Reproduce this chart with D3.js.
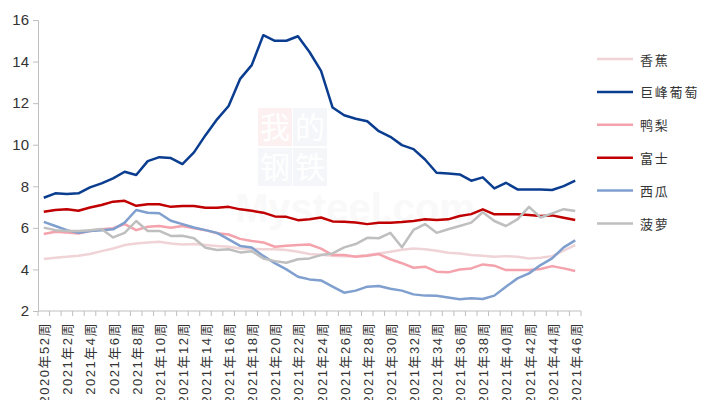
<!DOCTYPE html>
<html>
<head>
<meta charset="utf-8">
<script src="https://cdn.jsdelivr.net/npm/d3@7"></script>
<style>
  body { margin: 0; background: #fff; }
  svg { display: block; font-family: "Liberation Sans", Arial, sans-serif; }
</style>
</head>
<body>
<svg id="chart" width="702" height="400"></svg>
<script>
// Weeks on the x axis
const weeks = ["2020年52周"].concat(d3.range(1, 47).map(w => `2021年${w}周`));

const yTicks = [2, 4, 6, 8, 10, 12, 14, 16];

// Series values
const banana = [4.50,4.56,4.61,4.66,4.74,4.88,5.01,5.17,5.25,5.30,5.33,5.25,5.20,5.22,5.17,5.13,5.09,5.01,4.99,4.97,4.97,4.93,4.85,4.74,4.71,4.66,4.64,4.64,4.69,4.77,4.85,4.95,5.01,4.97,4.90,4.80,4.77,4.69,4.66,4.61,4.64,4.61,4.53,4.56,4.64,4.90,5.17];
const grape = [7.45,7.66,7.63,7.66,7.95,8.14,8.38,8.70,8.54,9.21,9.40,9.36,9.07,9.63,10.46,11.22,11.86,13.17,13.83,15.27,15.00,15.00,15.22,14.46,13.55,11.79,11.42,11.25,11.13,10.65,10.38,9.98,9.79,9.29,8.65,8.62,8.57,8.27,8.43,7.90,8.17,7.85,7.85,7.85,7.82,8.01,8.27];
const pear = [5.70,5.81,5.78,5.73,5.85,5.93,5.98,6.18,5.89,6.05,6.09,6.01,6.09,5.98,5.89,5.74,5.68,5.47,5.37,5.30,5.09,5.14,5.17,5.20,5.00,4.69,4.69,4.61,4.66,4.74,4.49,4.30,4.08,4.13,3.89,3.86,4.00,4.05,4.24,4.18,3.97,3.97,3.97,4.02,4.16,4.05,3.92];
const fuji = [6.77,6.86,6.89,6.82,6.98,7.10,7.26,7.30,7.06,7.14,7.14,7.01,7.05,7.05,6.97,6.97,7.01,6.89,6.82,6.73,6.55,6.53,6.37,6.41,6.50,6.31,6.29,6.26,6.18,6.25,6.25,6.28,6.33,6.41,6.38,6.41,6.57,6.66,6.89,6.65,6.65,6.65,6.62,6.57,6.60,6.49,6.38];
const melon = [6.29,6.09,5.89,5.76,5.85,5.89,5.93,6.25,6.86,6.73,6.70,6.34,6.18,6.02,5.89,5.76,5.45,5.13,5.05,4.65,4.30,4.00,3.65,3.52,3.47,3.17,2.88,2.98,3.17,3.20,3.07,2.98,2.80,2.74,2.73,2.65,2.57,2.61,2.58,2.74,3.17,3.57,3.81,4.21,4.53,5.06,5.40];
const pineapple = [6.01,5.89,5.85,5.85,5.89,5.94,5.54,5.76,6.33,5.85,5.85,5.61,5.62,5.50,5.04,4.93,4.97,4.82,4.88,4.53,4.40,4.32,4.49,4.53,4.69,4.77,5.06,5.22,5.52,5.50,5.76,5.07,5.90,6.18,5.76,5.93,6.09,6.25,6.75,6.33,6.09,6.41,7.01,6.50,6.70,6.90,6.81];

const seriesNames = ["香蕉", "巨峰葡萄", "鸭梨", "富士", "西瓜", "菠萝"];
const seriesValues = [banana, grape, pear, fuji, melon, pineapple];
const seriesColors = ["#f0d3d6", "#0a3d8f", "#f4a2ac", "#c00000", "#7f9fcf", "#bfbfbf"];

const svg = d3.select("#chart");
const mLeft = 38, mRight = 581, mTop = 20, mBottom = 311;

const x = d3.scaleBand().domain(weeks).range([mLeft, mRight]).padding(0);
const y = d3.scaleLinear().domain([2, 16]).range([mBottom, mTop]);
const cx = d => x(d) + x.bandwidth() / 2;

// Faint watermark
const wm = svg.append("g").attr("opacity", 0.35);
[["我", "#f7d7d7", 0, 0], ["的", "#e3e8f2", 1, 0], ["钢", "#e3e8f2", 0, 1], ["铁", "#e3e8f2", 1, 1]].forEach(([t, c, i, j]) => {
  wm.append("rect").attr("x", 258 + i * 35).attr("y", 108 + j * 40).attr("width", 34).attr("height", 38).attr("fill", c);
  wm.append("text").attr("x", 275 + i * 35).attr("y", 138 + j * 40).attr("text-anchor", "middle")
    .attr("font-family", "Noto Sans CJK SC").attr("font-size", 30).attr("fill", "#fff").text(t);
});
wm.append("text").attr("x", 235).attr("y", 222).attr("font-size", 40).attr("font-weight", "bold")
  .attr("fill", "#eeeeee").text("Mysteel.com");

// Y axis
const yAxis = d3.axisLeft(y).tickValues(yTicks).tickSize(5).tickPadding(4);
const gy = svg.append("g").attr("transform", `translate(${mLeft},0)`).call(yAxis);
gy.selectAll("path, line").attr("stroke", "#bfbfbf");
gy.selectAll("text").attr("font-size", 15).attr("fill", "#333").attr("font-family", "Liberation Sans, Arial, sans-serif");

// X axis: ticks at each band boundary, labels every other week
const gx = svg.append("g");
gx.append("line").attr("x1", mLeft).attr("x2", mRight).attr("y1", mBottom).attr("y2", mBottom).attr("stroke", "#bfbfbf");
gx.selectAll("line.tick")
  .data(weeks.concat([null]))
  .enter().append("line")
  .attr("class", "tick")
  .attr("x1", (d, i) => mLeft + i * x.bandwidth())
  .attr("x2", (d, i) => mLeft + i * x.bandwidth())
  .attr("y1", mBottom).attr("y2", mBottom + 5)
  .attr("stroke", "#bfbfbf");
gx.selectAll("text")
  .data(weeks.filter((d, i) => i % 2 === 0))
  .enter().append("text")
  .attr("transform", d => `translate(${cx(d) + 1},${mBottom + 11}) rotate(-90)`)
  .attr("text-anchor", "end")
  .attr("dominant-baseline", "central")
  .attr("font-size", 13)
  .attr("letter-spacing", 1.5)
  .attr("fill", "#333")
  .attr("font-family", "Liberation Sans, 'Noto Sans CJK SC', sans-serif")
  .text(d => d);

// Lines
const line = d3.line().x((v, i) => cx(weeks[i])).y(v => y(v));
seriesValues.forEach((vals, k) => {
  svg.append("path")
    .datum(vals)
    .attr("fill", "none")
    .attr("stroke", seriesColors[k])
    .attr("stroke-width", 2.5)
    .attr("stroke-linejoin", "round")
    .attr("d", line);
});

// Legend
const legend = svg.append("g").attr("transform", "translate(597,59)");
seriesNames.forEach((name, k) => {
  const g = legend.append("g").attr("transform", `translate(0,${k * 32.9})`);
  g.append("line").attr("x1", 0).attr("x2", 36).attr("stroke", seriesColors[k]).attr("stroke-width", 2.5);
  g.append("text").attr("x", 43).attr("dominant-baseline", "central")
    .attr("font-family", "Noto Sans CJK SC").attr("font-size", 13).attr("letter-spacing", 1.8)
    .attr("fill", "#333").text(name);
});
</script>
</body>
</html>
